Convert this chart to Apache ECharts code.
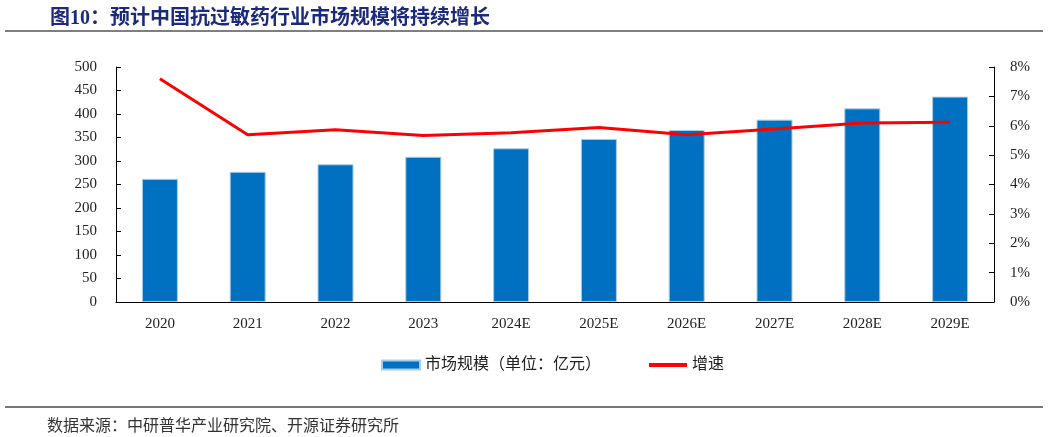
<!DOCTYPE html>
<html>
<head>
<meta charset="utf-8">
<script src="https://cdn.jsdelivr.net/npm/echarts@6/dist/echarts.min.js"></script>
<style>
  html, body { margin: 0; padding: 0; background: #fff; }
  #chart { width: 1049px; height: 437px; }
</style>
</head>
<body>
<div id="chart"></div>
<script>
// data
var years = ['2020', '2021', '2022', '2023', '2024E', '2025E', '2026E', '2027E', '2028E', '2029E']
var marketSize = [262, 277, 293, 309, 327, 347, 366, 388, 412, 437]   // 亿元
var growth = [7.6, 5.69, 5.86, 5.67, 5.76, 5.94, 5.69, 5.89, 6.09, 6.12] // %
var leftTicks = [0, 50, 100, 150, 200, 250, 300, 350, 400, 450, 500]
var rightTicks = ['0%', '1%', '2%', '3%', '4%', '5%', '6%', '7%', '8%']

var latin = '"Liberation Serif", "Times New Roman", serif'
var cjk = '"Liberation Serif", "Noto Sans CJK SC", serif'

var chart = echarts.init(document.getElementById('chart'))
var option = {
    animation: false,
    title: [
        {
            text: '图10：预计中国抗过敏药行业市场规模将持续增长',
            left: 45, top: 4,
            textStyle: { color: '#1c2a7d', fontSize: 20, fontWeight: 'bold', fontFamily: cjk }
        },
        {
            text: '数据来源：中研普华产业研究院、开源证券研究所',
            left: 42, top: 414,
            textStyle: { color: '#333', fontSize: 16, fontWeight: 'normal', fontFamily: cjk }
        }
    ],
    graphic: [
        { type: 'line', shape: { x1: 5, y1: 31, x2: 1043, y2: 31 }, style: { stroke: '#000', lineWidth: 1.2 } },
        { type: 'line', shape: { x1: 5, y1: 407, x2: 1043, y2: 407 }, style: { stroke: '#777', lineWidth: 2 } }
    ],
    legend: {
        left: 376, top: 352,
        itemWidth: 38, itemHeight: 9, itemGap: 46,
        textStyle: { fontFamily: cjk, fontSize: 16, color: '#222' },
        data: [
            { name: '市场规模（单位：亿元）', icon: 'rect' },
            { name: '增速', itemStyle: { opacity: 0 }, lineStyle: { width: 4 } }
        ]
    },
    grid: { left: 116, right: 55, top: 67, bottom: 135 },
    xAxis: {
        type: 'category',
        data: years,
        axisLine: { lineStyle: { color: '#000', width: 1 } },
        axisTick: { inside: true, length: 5, lineStyle: { color: '#000' } },
        axisLabel: { color: '#222', fontFamily: latin, fontSize: 15, margin: 15 }
    },
    yAxis: [
        {
            type: 'value', min: 0, max: 500, interval: 50,
            splitLine: { show: false },
            axisLine: { show: true, lineStyle: { color: '#000' } },
            axisTick: { show: true, inside: true, length: 5, lineStyle: { color: '#000' } },
            axisLabel: {
                color: '#222', fontFamily: latin, fontSize: 15, margin: 19,
                formatter: function (v) { return leftTicks.indexOf(v) >= 0 ? String(v) : '' }
            }
        },
        {
            type: 'value', min: 0, max: 8, interval: 1,
            splitLine: { show: false },
            axisLine: { show: true, lineStyle: { color: '#000' } },
            axisTick: { show: true, inside: true, length: 5, lineStyle: { color: '#000' } },
            axisLabel: {
                color: '#222', fontFamily: latin, fontSize: 15, margin: 16,
                formatter: function (v) { return rightTicks[Math.round(v)] }
            }
        }
    ],
    series: [
        {
            name: '市场规模（单位：亿元）',
            type: 'bar',
            data: marketSize,
            barWidth: 36,
            itemStyle: { color: '#0070c0', borderColor: '#a9cdec', borderWidth: 1 }
        },
        {
            name: '增速',
            type: 'line',
            yAxisIndex: 1,
            data: growth,
            symbol: 'none',
            lineStyle: { color: '#ff0000', width: 3 },
            itemStyle: { color: '#ff0000' }
        }
    ]
}
chart.setOption(option)
</script>
</body>
</html>
